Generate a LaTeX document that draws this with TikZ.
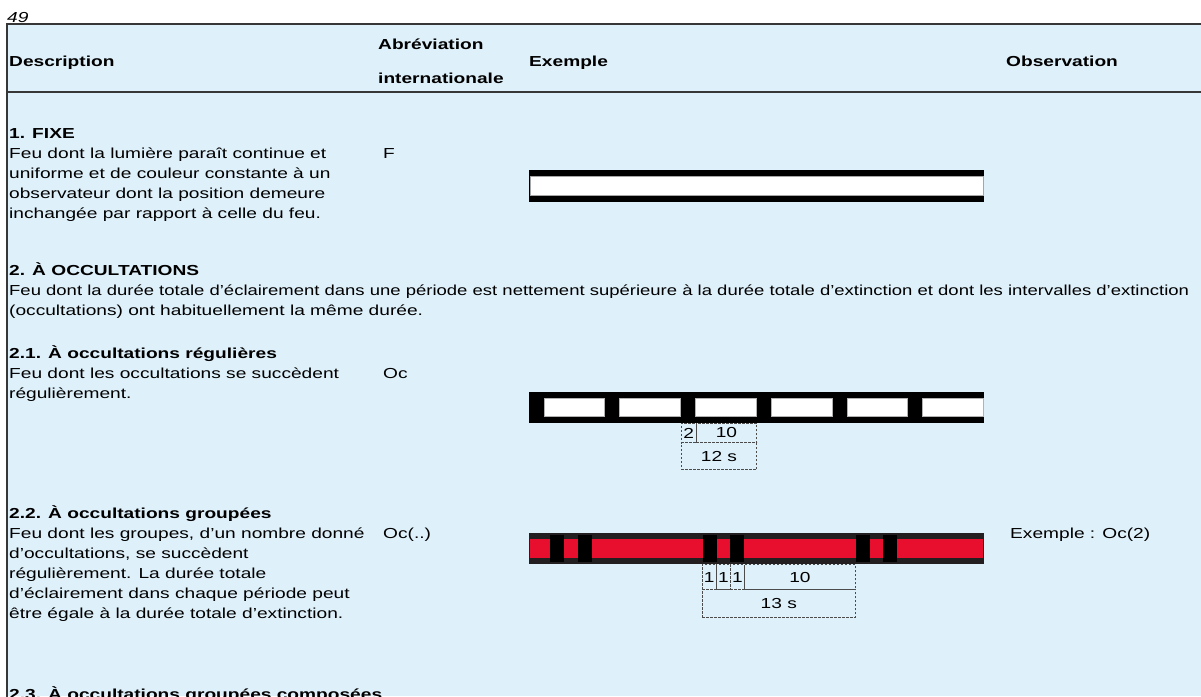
\documentclass[tikz,border=0pt]{standalone}
\usepackage{fontspec}
\setmainfont{Liberation Sans}[FakeStretch=1.32]
\usetikzlibrary{positioning}

\definecolor{tabbg}{RGB}{222,240,250}
\definecolor{feured}{RGB}{232,14,46}
\definecolor{barblack}{RGB}{35,31,32}
\definecolor{rulegray}{RGB}{55,55,55}

\begin{document}
\begin{tikzpicture}[x=1pt, y=-1pt,
  txt/.style={anchor=base west, inner sep=0pt, font=\fontsize{14.5}{20}\selectfont},
  head/.style={txt, font=\fontsize{14.5}{20}\selectfont\bfseries},
  dimbox/.style={draw=black!70, dash pattern=on 2.5pt off 1.5pt, line width=0.9pt,
    inner sep=0pt, anchor=north west, font=\fontsize{14.5}{20}\selectfont}]

\useasboundingbox (0,0) rectangle (1201,696);

\fill[tabbg] (7,24) rectangle (1201,696);
\draw[rulegray, line width=1.2pt] (1201,24) -- (7,24) -- (7,697);
\draw[rulegray, line width=1.2pt] (7,92) -- (1201,92);

\node[txt, font=\fontsize{14.5}{20}\selectfont\itshape] (page) at (7,23) {49};

%%%%%%%%%%%% header
\node[head] (hdesc) at (9,66) {Description};
\node[head] (habr1) at (378,49) {Abréviation};
\node[head] (habr2) at (378,83) {internationale};
\node[head] (hex) at (529,66) {Exemple};
\node[head] (hobs) at (1006,66) {Observation};

%%%%%%%%%%%% 1. fixe
\node[head] (t1) at (9,138) {1. FIXE};
\foreach \t [count=\i] in {Feu dont la lumière paraît continue et,
  uniforme et de couleur constante à un,
  observateur dont la position demeure,
  inchangée par rapport à celle du feu.}
{\node[txt] (d1l\i) at (9,138+20*\i) {\t};}
\node[txt] (a1) at (383,158) {F};

\fill[black] (529,170) rectangle (984,201.7);
\filldraw[fill=white, draw=black!35, line width=0.6pt] (530,176) rectangle (983,195);

%%%%%%%%%%%% 2. a occultations
\node[head] (t2) at (9,275) {2. À OCCULTATIONS};
\node[txt, xscale=0.966, transform shape] (d2l1) at (9,295) {Feu dont la durée totale d’éclairement dans une période est nettement supérieure à la durée totale d’extinction et dont les intervalles d’extinction};
\node[txt] (d2l2) at (9,315) {(occultations) ont habituellement la même durée.};

%%%%%%%%%%%% 2.1
\node[head] (t21) at (9,358) {2.1. À occultations régulières};
\node[txt] (d21l1) at (9,378) {Feu dont les occultations se succèdent};
\node[txt] (d21l2) at (9,398) {régulièrement.};
\node[txt] (a21) at (383,378) {Oc};

\fill[black] (529,391.7) rectangle (984,422.7);
\foreach \k in {0,...,5}
{\filldraw[fill=white, draw=black!30, line width=0.6pt] ({544+75.7*\k},398.3) rectangle ({min(604.7+75.7*\k,983.3)},416);}

\node[dimbox, minimum width=15pt, minimum height=19.6pt] (oc2) at (680.7,422.7) {2};
\node[dimbox, minimum width=60.6pt, minimum height=19.6pt] (oc10) at (695.7,422.7) {10};
\node[dimbox, minimum width=75.6pt, minimum height=26.7pt] (oc12) at (680.7,442.3) {12 s};

%%%%%%%%%%%% 2.2
\node[head] (t22) at (9,518) {2.2. À occultations groupées};
\foreach \t [count=\i] in {{Feu dont les groupes, d’un nombre donné},
  {d’occultations, se succèdent},
  {régulièrement. La durée totale},
  {d’éclairement dans chaque période peut},
  {être égale à la durée totale d’extinction.}}
{\node[txt] (d22l\i) at (9,518+20*\i) {\t};}
\node[txt] (a22) at (383,538) {Oc(..)};
\node[txt] (o22) at (1010,538) {Exemple : Oc(2)};

\fill[barblack] (529,533.3) rectangle (984,564.3);
\fill[feured] (530,539.3) rectangle (983.3,558.3);
\foreach \k in {0,1,2}
{\foreach \d in {0,27.5}
{\fill[black] ({550+152.8*\k+\d},535) rectangle +(14,26.7);}}

\node[dimbox, minimum width=14.3pt, minimum height=24.7pt] (ocg1) at (701.7,564.3) {1};
\node[dimbox, minimum width=14pt, minimum height=24.7pt] (ocg2) at (716,564.3) {1};
\node[dimbox, minimum width=14pt, minimum height=24.7pt] (ocg3) at (730,564.3) {1};
\node[dimbox, minimum width=111pt, minimum height=24.7pt] (ocg10) at (744,564.3) {10};
\node[dimbox, minimum width=153.3pt, minimum height=27.7pt] (ocg13) at (701.7,589) {13 s};

%%%%%%%%%%%% 2.3
\node[head] (t23) at (9,699) {2.3. À occultations groupées composées};
\end{tikzpicture}
\end{document}
